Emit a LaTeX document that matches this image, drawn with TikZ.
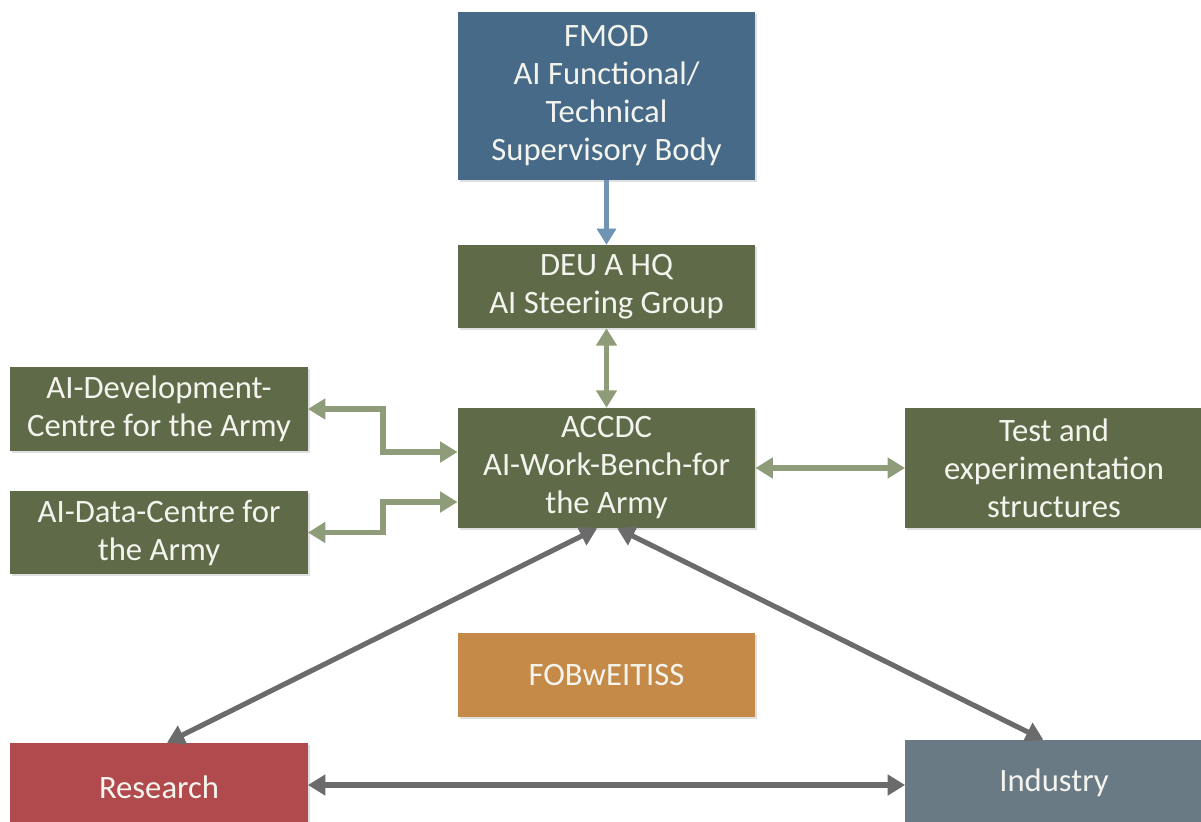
\documentclass[tikz,border=0pt]{standalone}
\usepackage{fontspec}
\setmainfont{Carlito}
\usetikzlibrary{arrows.meta,shadows}
\definecolor{boxblue}{HTML}{466A87}
\definecolor{boxgreen}{HTML}{5F6B48}
\definecolor{boxorange}{HTML}{C68A48}
\definecolor{boxred}{HTML}{B04A4C}
\definecolor{boxgrey}{HTML}{6A7A84}
\definecolor{arrgreen}{HTML}{8E9C79}
\definecolor{arrblue}{HTML}{6E93B3}
\definecolor{arrgrey}{HTML}{6B6B6B}
\definecolor{txt}{HTML}{F4F4EE}
\begin{document}
\begin{tikzpicture}[x=0.75pt,y=-0.75pt,
  box/.style={rectangle, inner sep=0pt, text=txt, align=center,
    font=\fontsize{24.5pt}{28.5pt}\selectfont,
    drop shadow={opacity=0.25, shadow xshift=1.5pt, shadow yshift=-1.5pt}},
  wide/.style={minimum width=223pt},
  greenarr/.style={draw=arrgreen, line width=4pt,
    {Triangle[width=15pt,length=13pt]}-{Triangle[width=15pt,length=13pt]}},
  bluearr/.style={draw=arrblue, line width=3.4pt,
    -{Triangle[width=14pt,length=12pt]}},
  greyarr/.style={draw=arrgrey, line width=3.8pt,
    {Triangle[width=15pt,length=13pt]}-{Triangle[width=15pt,length=13pt]}}]
\useasboundingbox (0,0) rectangle (1201,821);
\clip (0,0) rectangle (1201,821);
\fill[white] (0,0) rectangle (1201,821);

\node[box, wide, fill=boxblue, minimum height=126pt] (fmod) at (606.5,96)
  {FMOD\\AI Functional/\\Technical\\Supervisory Body};
\node[box, wide, fill=boxgreen, minimum height=62.25pt] (deu) at (606.5,286.5)
  {DEU A HQ\\AI Steering Group};
\node[box, wide, fill=boxgreen, minimum height=90pt] (accdc) at (606.5,468)
  {ACCDC\\AI-Work-Bench-for\\the Army};
\node[box, wide, fill=boxorange, minimum height=63pt] (fob) at (606.5,675)
  {FOBwEITISS};
\node[box, wide, fill=boxgreen, minimum height=63pt] (dev) at (159,409)
  {AI-Development-\\Centre for the Army};
\node[box, wide, fill=boxgreen, minimum height=62.25pt] (data) at (159,532.5)
  {AI-Data-Centre for\\the Army};
\node[box, wide, fill=boxgreen, minimum height=90pt] (test) at (1054,468)
  {Test and\\experimentation\\structures};
\node[box, wide, fill=boxred, minimum height=66pt] (research) at (159,787)
  {Research};
\node[box, wide, fill=boxgrey, minimum height=64.5pt] (industry) at (1054,783)
  {Industry};

\draw[bluearr] (fmod.south) -- (deu.north);
\draw[greenarr] (deu.south) -- (accdc.north);
\draw[greenarr] (dev.east) -- ++(75,0) |- ([yshift=12pt]accdc.west);
\draw[greenarr] (data.east) -- ++(75,0) |- ([yshift=-25.5pt]accdc.west);
\draw[greenarr] (accdc.east) -- (test.west);
\draw[greyarr] ([xshift=-7pt]accdc.south) -- ([xshift=6pt]research.north);
\draw[greyarr] ([xshift=8pt]accdc.south) -- ([xshift=-8pt]industry.north);
\draw[greyarr] ([yshift=1.5pt]research.east) -- ([yshift=-1.5pt]industry.west);
\end{tikzpicture}
\end{document}
